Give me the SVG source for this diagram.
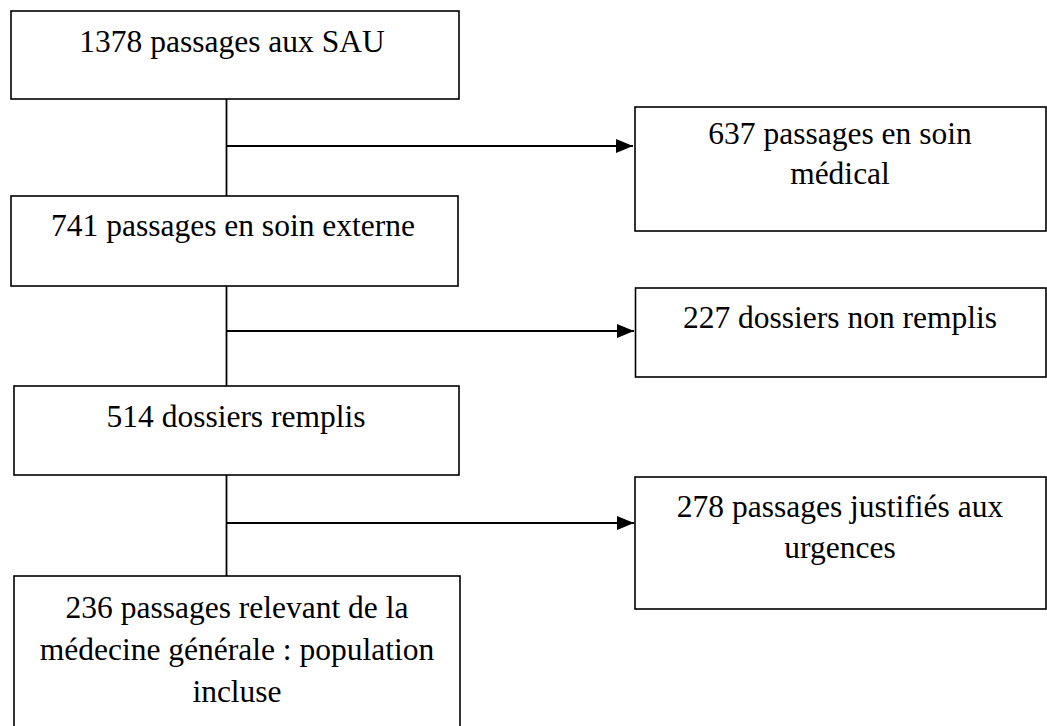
<svg xmlns="http://www.w3.org/2000/svg" width="1047" height="726" viewBox="0 0 1047 726">
<style>
.box{fill:#fff;stroke:#000;stroke-width:1.6}
.t{font-family:"Liberation Serif","Times New Roman",serif;font-size:31.5px;fill:#000;text-anchor:middle}
.c{fill:none;stroke:#000;stroke-width:1.8}
</style>
<defs>
<marker id="ah" markerWidth="17" markerHeight="14" refX="17" refY="7" orient="auto" markerUnits="userSpaceOnUse">
<path d="M0,0 L17,7 L0,14 Z" fill="#000"/>
</marker>
</defs>
<rect width="1047" height="726" fill="#fff"/>
<g id="connectors">
<line class="c" x1="226.5" y1="99" x2="226.5" y2="196"/>
<line class="c" x1="226.5" y1="146" x2="633" y2="146" marker-end="url(#ah)"/>
<line class="c" x1="226.5" y1="286" x2="226.5" y2="386"/>
<line class="c" x1="226.5" y1="331" x2="634" y2="331" marker-end="url(#ah)"/>
<line class="c" x1="226.5" y1="475" x2="226.5" y2="576"/>
<line class="c" x1="226.5" y1="523" x2="634" y2="523" marker-end="url(#ah)"/>
</g>
<g id="n1">
<rect class="box" x="11" y="11" width="448" height="88"/>
<text class="t" x="232" y="52">1378 passages aux SAU</text>
</g>
<g id="n2">
<rect class="box" x="635" y="107" width="411" height="124"/>
<text class="t" x="840" y="144">637 passages en soin</text>
<text class="t" x="840" y="184">médical</text>
</g>
<g id="n3">
<rect class="box" x="11" y="196" width="447" height="90"/>
<text class="t" x="233" y="236">741 passages en soin externe</text>
</g>
<g id="n4">
<rect class="box" x="635.5" y="288" width="410.5" height="89"/>
<text class="t" x="840" y="328">227 dossiers non remplis</text>
</g>
<g id="n5">
<rect class="box" x="14" y="386" width="445" height="89"/>
<text class="t" x="236" y="427">514 dossiers remplis</text>
</g>
<g id="n6">
<rect class="box" x="635" y="477" width="411" height="132"/>
<text class="t" x="840" y="517">278 passages justifiés aux</text>
<text class="t" x="840" y="558">urgences</text>
</g>
<g id="n7">
<rect class="box" x="14" y="576" width="446" height="160"/>
<text class="t" x="237" y="618">236 passages relevant de la</text>
<text class="t" x="237" y="660">médecine générale : population</text>
<text class="t" x="237" y="702">incluse</text>
</g>
</svg>
